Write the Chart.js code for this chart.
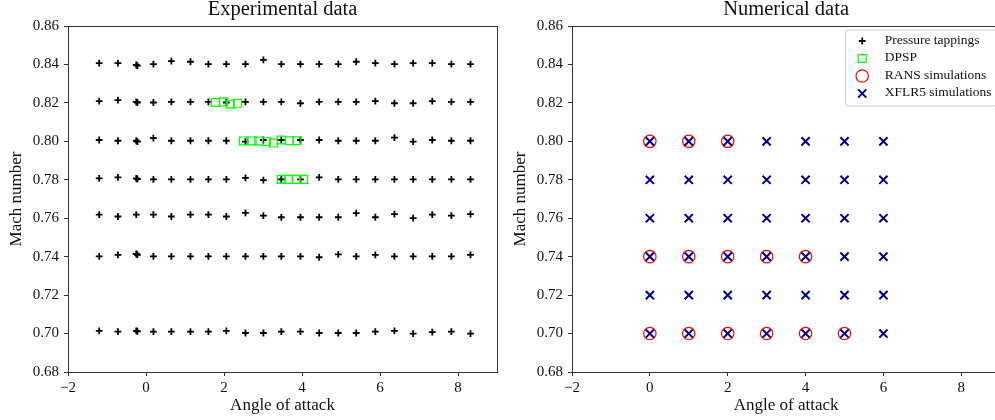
<!DOCTYPE html>
<html>
<head>
<meta charset="utf-8">
<title>Mach number vs angle of attack</title>
<script src="https://cdn.jsdelivr.net/npm/chart.js@4/dist/chart.umd.min.js"></script>
<style>
  html, body { margin: 0; padding: 0; background: #fff; overflow: hidden; }
  #wrap { position: relative; width: 995px; height: 420px; overflow: hidden; }
  canvas { position: absolute; top: 0; }
  #expChart { left: 0; }
  #numChart { left: 504px; }
</style>
</head>
<body>
<div id="wrap">
  <canvas id="expChart" width="504" height="420"></canvas>
  <canvas id="numChart" width="504" height="420"></canvas>
</div>
<script>
// tick positions shared by both panels
const xTicks = [-2, 0, 2, 4, 6, 8];
const yTicks = [0.68, 0.70, 0.72, 0.74, 0.76, 0.78, 0.80, 0.82, 0.84, 0.86];

// pressure tapping runs: angle of attack of each column, measured Mach per row
const alphaTaps = [-1.20, -0.72, -0.25, 0.19, 0.65, 1.14, 1.60, 2.06, 2.55, 3.01, 3.47,
  3.96, 4.44, 4.93, 5.39, 5.88, 6.37, 6.85, 7.34, 7.83, 8.32];
const machTaps084 = [0.8407, 0.8407, 0.8397, 0.8402, 0.8417, 0.8414, 0.8402, 0.8402, 0.8402, 0.8424, 0.8402,
  0.8402, 0.8402, 0.8402, 0.8414, 0.8407, 0.8402, 0.8407, 0.8407, 0.8402, 0.8402];
const machTaps082 = [0.8209, 0.8214, 0.8205, 0.8202, 0.8205, 0.8205, 0.8205, 0.8202, 0.8205, 0.8205, 0.8205,
  0.8198, 0.8205, 0.8205, 0.8205, 0.8209, 0.8198, 0.8198, 0.8209, 0.8205, 0.8205];
const machTaps080 = [0.8007, 0.8003, 0.8003, 0.8017, 0.8003, 0.8003, 0.8003, 0.8003, 0.7998, 0.8007, 0.8007,
  0.8007, 0.8007, 0.8003, 0.8003, 0.8003, 0.8019, 0.7998, 0.8007, 0.8003, 0.8003];
const machTaps078 = [0.7807, 0.7812, 0.7807, 0.7802, 0.7802, 0.7802, 0.7802, 0.7802, 0.7810, 0.7798, 0.7802,
  0.7802, 0.7812, 0.7802, 0.7802, 0.7802, 0.7802, 0.7802, 0.7802, 0.7802, 0.7802];
const machTaps076 = [0.7619, 0.7609, 0.7619, 0.7619, 0.7609, 0.7619, 0.7619, 0.7609, 0.7628, 0.7614, 0.7605,
  0.7605, 0.7605, 0.7605, 0.7626, 0.7605, 0.7621, 0.7600, 0.7619, 0.7614, 0.7621];
const machTaps074 = [0.7402, 0.7409, 0.7414, 0.7402, 0.7402, 0.7402, 0.7402, 0.7402, 0.7402, 0.7402, 0.7402,
  0.7402, 0.7397, 0.7412, 0.7402, 0.7409, 0.7402, 0.7402, 0.7402, 0.7402, 0.7409];
const machTaps070 = [0.7014, 0.7010, 0.7014, 0.7010, 0.7010, 0.7010, 0.7010, 0.7014, 0.7003, 0.7003, 0.7010,
  0.7010, 0.7003, 0.7003, 0.7003, 0.7010, 0.7014, 0.7000, 0.7007, 0.7010, 0.7000];

// repeated tappings run near zero incidence
const alphaRepeat = [-0.22, -0.22, -0.22, -0.22, -0.22, -0.22];
const machRepeat = [0.8394, 0.8202, 0.7999, 0.7804, 0.7410, 0.7012];

// DPSP acquisitions
const alphaDpsp082 = [1.78, 1.99, 2.16, 2.35];
const machDpsp082 = [0.8202, 0.8205, 0.8193, 0.8198];
const alphaDpsp080 = [2.50, 2.72, 2.89, 3.09, 3.27, 3.47, 3.68, 3.87];
const machDpsp080 = [0.8002, 0.8002, 0.8002, 0.7998, 0.7991, 0.8007, 0.8003, 0.8003];
const alphaDpsp078 = [3.47, 3.66, 3.85, 4.04];
const machDpsp078 = [0.7802, 0.7802, 0.7802, 0.7802];

// numerical test matrix
const xflrAlpha = [0, 1, 2, 3, 4, 5, 6];
const xflrMach = [0.70, 0.72, 0.74, 0.76, 0.78, 0.80];
const ransAlpha080 = [0, 1, 2];
const ransAlpha074 = [0, 1, 2, 3, 4];
const ransAlpha070 = [0, 1, 2, 3, 4, 5];

const FONT = "'Liberation Serif', 'Times New Roman', serif";
const AXIS_COLOR = "#333";

const tapStyle = { pointStyle: "cross", radius: 3.4, borderWidth: 1.8, color: "#000000" };
const dpspStyle = { pointStyle: "rect", radius: 5.6, borderWidth: 1.2, color: "#00ff00" };
const ransStyle = { pointStyle: "circle", radius: 6.2, borderWidth: 1.2, color: "#ff0000" };
const xflrStyle = { pointStyle: "crossRot", radius: 5.8, borderWidth: 2, color: "#00008b" };

function zipPoints(xs, ys) {
  return xs.map((x, i) => ({ x, y: ys[i] }));
}

function rowPoints(xs, mach) {
  return xs.map(x => ({ x, y: mach }));
}

function markerDataset(label, data, style) {
  return {
    label,
    data,
    showLine: false,
    pointStyle: style.pointStyle,
    pointRadius: style.radius,
    pointBorderWidth: style.borderWidth,
    pointBorderColor: style.color,
    pointBackgroundColor: "rgba(0,0,0,0)"
  };
}

// top and right spines plus the bottom/left ones
const framePlugin = {
  id: "frame",
  afterDraw(chart) {
    const { ctx, chartArea: a } = chart;
    const l = Math.floor(a.left) + 0.5;
    const t = Math.floor(a.top) + 0.5;
    const r = Math.floor(a.right) + 0.5;
    const b = Math.floor(a.bottom) + 0.5;
    ctx.save();
    ctx.strokeStyle = AXIS_COLOR;
    ctx.lineWidth = 1;
    ctx.strokeRect(l, t, r - l, b - t);
    ctx.restore();
  }
};

const legendItems = [
  { text: "Pressure tappings", style: tapStyle },
  { text: "DPSP", style: dpspStyle },
  { text: "RANS simulations", style: ransStyle },
  { text: "XFLR5 simulations", style: xflrStyle }
];

function drawMarker(ctx, style, x, y) {
  ctx.strokeStyle = style.color;
  ctx.fillStyle = "rgba(0,0,0,0)";
  ctx.lineWidth = style.borderWidth;
  Chart.helpers.drawPoint(ctx, {
    pointStyle: style.pointStyle,
    rotation: 0,
    radius: style.radius,
    borderWidth: style.borderWidth
  }, x, y);
}

const boxLegendPlugin = {
  id: "boxLegend",
  afterDraw(chart) {
    const { ctx, chartArea: a } = chart;
    const w = 151;
    const h = 76;
    const right = a.right - 4;
    const left = right - w;
    const top = a.top + 3.5;
    ctx.save();
    ctx.beginPath();
    ctx.roundRect(left + 0.5, top + 0.5, w, h, 3);
    ctx.fillStyle = "rgba(255,255,255,0.8)";
    ctx.fill();
    ctx.strokeStyle = "#cccccc";
    ctx.lineWidth = 1;
    ctx.stroke();

    ctx.font = "13.5px " + FONT;
    ctx.textBaseline = "middle";
    ctx.textAlign = "left";
    legendItems.forEach((item, i) => {
      const y = top + 11.5 + i * 17.5;
      drawMarker(ctx, item.style, left + 17, y);
      ctx.fillStyle = "#111";
      ctx.fillText(item.text, left + 39.5, y - 1);
    });
    ctx.restore();
  }
};

function minusSign(v) {
  return String(v).replace("-", "\u2212");
}

function buildOptions(titleText) {
  return {
    responsive: false,
    animation: false,
    events: [],
    layout: { padding: { left: 0, right: 7, top: 0, bottom: 0 } },
    plugins: {
      legend: { display: false },
      tooltip: { enabled: false },
      title: {
        display: true,
        text: titleText,
        fullSize: false,
        color: "#111",
        font: { family: FONT, size: 20.5, weight: "normal", lineHeight: "20px" },
        padding: { top: 0, bottom: 6 }
      }
    },
    scales: {
      x: {
        type: "linear",
        min: -2,
        max: 9,
        afterFit: scale => { scale.height = 48; },
        afterBuildTicks: scale => { scale.ticks = xTicks.map(value => ({ value })); },
        border: { display: false },
        grid: {
          drawOnChartArea: false,
          drawTicks: true,
          tickLength: 4,
          tickColor: AXIS_COLOR
        },
        ticks: {
          color: "#111",
          padding: 3,
          maxRotation: 0,
          font: { family: FONT, size: 15 },
          callback: v => minusSign(v)
        },
        title: {
          display: true,
          text: "Angle of attack",
          color: "#111",
          font: { family: FONT, size: 17 },
          padding: { top: 0, bottom: 4 }
        }
      },
      y: {
        type: "linear",
        min: 0.68,
        max: 0.86,
        afterFit: scale => { scale.width = 68; },
        afterBuildTicks: scale => { scale.ticks = yTicks.map(value => ({ value })); },
        border: { display: false },
        grid: {
          drawOnChartArea: false,
          drawTicks: true,
          tickLength: 4,
          tickColor: AXIS_COLOR
        },
        ticks: {
          color: "#111",
          padding: 5,
          font: { family: FONT, size: 15 },
          callback: v => Number(v).toFixed(2)
        },
        title: {
          display: true,
          text: "Mach number",
          color: "#111",
          font: { family: FONT, size: 17 },
          padding: { top: 6, bottom: 0 }
        }
      }
    }
  };
}

// experimental panel
const tapRows = [machTaps084, machTaps082, machTaps080, machTaps078, machTaps076, machTaps074, machTaps070];
const tapPoints = tapRows
  .flatMap(row => zipPoints(alphaTaps, row))
  .concat(zipPoints(alphaRepeat, machRepeat));

const dpspPoints = []
  .concat(zipPoints(alphaDpsp082, machDpsp082))
  .concat(zipPoints(alphaDpsp080, machDpsp080))
  .concat(zipPoints(alphaDpsp078, machDpsp078));

new Chart(document.getElementById("expChart"), {
  type: "scatter",
  data: {
    datasets: [
      markerDataset("DPSP", dpspPoints, dpspStyle),
      markerDataset("Pressure tappings", tapPoints, tapStyle)
    ]
  },
  options: buildOptions("Experimental data"),
  plugins: [framePlugin]
});

// numerical panel
const xflrPoints = xflrMach.flatMap(m => rowPoints(xflrAlpha, m));
const ransPoints = []
  .concat(rowPoints(ransAlpha080, 0.80))
  .concat(rowPoints(ransAlpha074, 0.74))
  .concat(rowPoints(ransAlpha070, 0.70));

new Chart(document.getElementById("numChart"), {
  type: "scatter",
  data: {
    datasets: [
      markerDataset("XFLR5 simulations", xflrPoints, xflrStyle),
      markerDataset("RANS simulations", ransPoints, ransStyle)
    ]
  },
  options: buildOptions("Numerical data"),
  plugins: [framePlugin, boxLegendPlugin]
});
</script>
</body>
</html>
